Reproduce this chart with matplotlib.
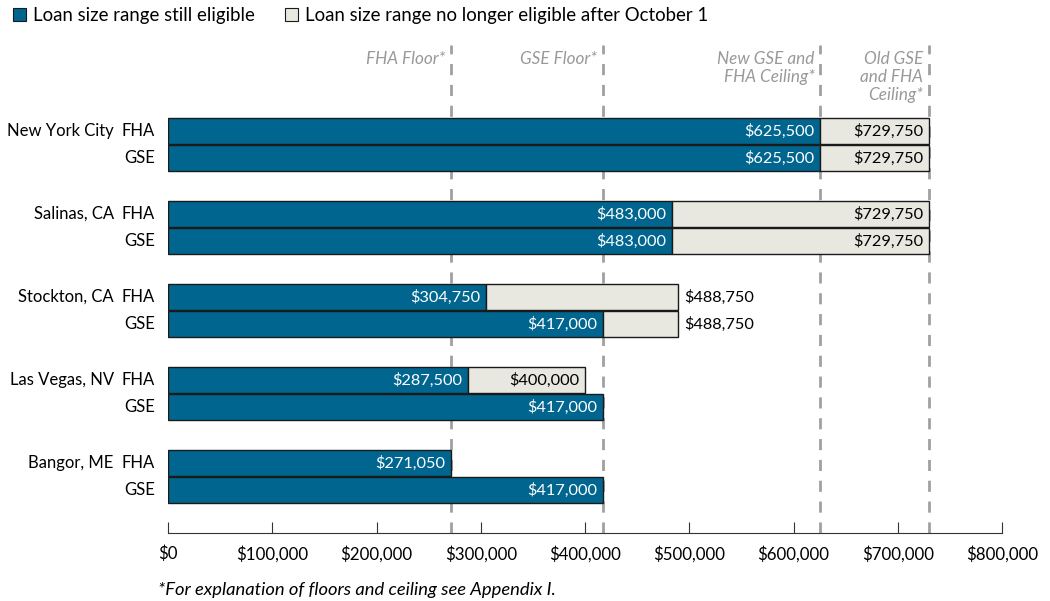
import matplotlib.pyplot as plt
from matplotlib.patches import Patch
from matplotlib.ticker import FuncFormatter

plt.rcParams['font.family'] = ['Lato', 'DejaVu Sans']

cities = ['New York City', 'Salinas, CA', 'Stockton, CA', 'Las Vegas, NV', 'Bangor, ME']
fha_new = [625500, 483000, 304750, 287500, 271050]
fha_old = [729750, 729750, 488750, 400000, 271050]
gse_new = [625500, 483000, 417000, 417000, 417000]
gse_old = [729750, 729750, 488750, 417000, 417000]

ref_values = [271050, 417000, 625500, 729750]
ref_labels = ['FHA Floor*', 'GSE Floor*', 'New GSE and\nFHA Ceiling*', 'Old GSE\nand FHA\nCeiling*']

# old-limit labels drawn outside the bar
outside_old = ['Stockton, CA']

blue = '#00668f'
light = '#e8e8e0'
grey = '#a0a0a0'

fig = plt.figure(figsize=(10.5, 6.01), dpi=100)
ax = fig.add_axes([168 / 1050, (601 - 533) / 601, 834 / 1050, 493 / 601])
ax.set_xlim(0, 800000)
ax.set_ylim(533, 40)

# reference lines (behind bars)
for v in ref_values:
    ax.plot([v, v], [533, 45], color=grey, lw=2, ls=(0, (4, 3.5)), zorder=0)
for v, lab in zip(ref_values, ref_labels):
    ax.annotate(lab, (v, 51), xytext=(-4, 0), textcoords='offset points',
                ha='right', va='top', fontsize=12.3, style='italic',
                color='#999999', linespacing=1.15)

fmt = lambda v: '${:,.0f}'.format(v)
ytr = ax.get_yaxis_transform()
h = 26.5
for g, city in enumerate(cities):
    y_f = 131 + 83 * g
    y_g = y_f + 27
    for y, new, old, prog in [(y_f, fha_new[g], fha_old[g], 'FHA'),
                              (y_g, gse_new[g], gse_old[g], 'GSE')]:
        ax.barh(y, new, height=h, color=blue, edgecolor='#1a1a1a', lw=1, zorder=2)
        ax.annotate(fmt(new), (new, y), xytext=(-4, 0), textcoords='offset points',
                    ha='right', va='center', color='white', fontsize=11.8, zorder=4)
        if old > new:
            ax.barh(y, old - new, left=new, height=h, color=light,
                    edgecolor='#1a1a1a', lw=1, zorder=2)
            if city in outside_old:
                ax.annotate(fmt(old), (old, y), xytext=(5, 0), textcoords='offset points',
                            ha='left', va='center', color='black', fontsize=11.8)
            else:
                ax.annotate(fmt(old), (old, y), xytext=(-4, 0), textcoords='offset points',
                            ha='right', va='center', color='black', fontsize=11.8, zorder=4)
        ax.text(-0.016, y, prog, transform=ytr, ha='right', va='center', fontsize=12)
    ax.text(-0.065, y_f, city, transform=ytr, ha='right', va='center', fontsize=12)

for s in ['top', 'right', 'left']:
    ax.spines[s].set_visible(False)
ax.spines['bottom'].set_color('#333333')
ax.set_yticks([])
ax.set_xticks(range(0, 800001, 100000))
ax.xaxis.set_major_formatter(FuncFormatter(lambda v, p: fmt(v)))
ax.tick_params(axis='x', direction='in', length=8, pad=9, labelsize=12.2, color='#333333')

handles = [Patch(facecolor=blue, edgecolor='#1a1a1a', lw=0.8),
           Patch(facecolor=light, edgecolor='#1a1a1a', lw=0.8)]
fig.legend(handles, ['Loan size range still eligible',
                     'Loan size range no longer eligible after October 1'],
           loc='upper left', bbox_to_anchor=(0.0, 1.01), ncol=2, frameon=False,
           fontsize=13.4, handlelength=0.7, handleheight=0.7, handletextpad=0.35,
           columnspacing=1.65, borderaxespad=0.3)

fig.text(158 / 1050, 1 - 590 / 601, '*For explanation of floors and ceiling see Appendix I.',
         fontsize=13.2, style='italic', va='center', ha='left')

fig.savefig('out.png', dpi=100)
